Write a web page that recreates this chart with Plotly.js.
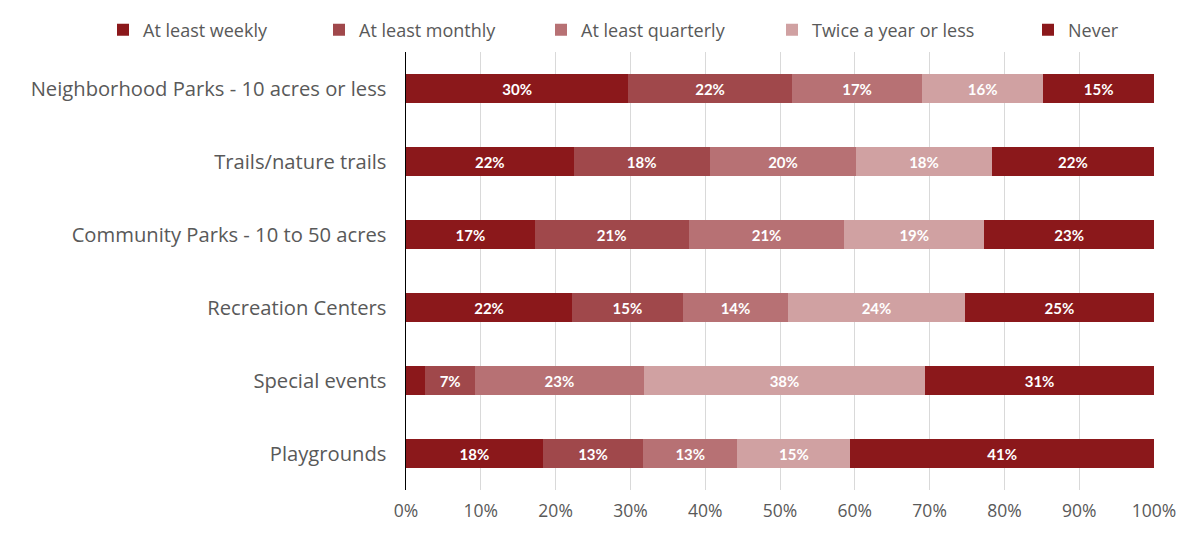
<!DOCTYPE html>
<html>
<head>
<meta charset="utf-8">
<script src="https://cdn.plot.ly/plotly-3.0.1.min.js"></script>
<style>html,body{margin:0;padding:0;background:#fff;}#chart{width:1178px;height:535px;}</style>
</head>
<body>
<div id="chart"></div>
<script>
const categories = [
  "Neighborhood Parks - 10 acres or less",
  "Trails/nature trails",
  "Community Parks - 10 to 50 acres",
  "Recreation Centers",
  "Special events",
  "Playgrounds"
];
const seriesNames = ["At least weekly", "At least monthly", "At least quarterly", "Twice a year or less", "Never"];
const weekly    = [29.7, 22.4, 17.2, 22.2,  2.6, 18.3];
const monthly   = [21.9, 18.2, 20.6, 14.8,  6.6, 13.4];
const quarterly = [17.4, 19.6, 20.8, 14.1, 22.6, 12.6];
const twice     = [16.2, 18.1, 18.7, 23.6, 37.6, 15.1];
const never     = [14.8, 21.7, 22.7, 25.3, 30.6, 40.6];
const seriesValues = [weekly, monthly, quarterly, twice, never];
const colors = ["#8b181b", "#a0484b", "#b77174", "#d0a1a2", "#8b181b"];
const xTickVals = [0,10,20,30,40,50,60,70,80,90,100];
const xTickText = xTickVals.map(v => v + "%");

const W = 1178, H = 535;
// legend anchor positions (px from left of page)
const legendLeft = [103, 319, 541, 772, 1028];
const legendIds = ["legend", "legend2", "legend3", "legend4", "legend5"];

const traces = seriesValues.map((vals, i) => ({
  type: "bar",
  orientation: "h",
  name: seriesNames[i],
  legend: legendIds[i],
  y: categories,
  x: vals,
  marker: {color: colors[i], line: {width: 0}},
  text: vals.map(v => Math.round(v) + "%"),
  textposition: "inside",
  insidetextanchor: "middle",
  textangle: 0,
  insidetextfont: {family: "Lato, 'Open Sans', sans-serif", size: 15, color: "#ffffff", weight: "bold"},
  hoverinfo: "name+x"
}));

const layout = {
  width: W, height: H,
  barmode: "stack",
  bargap: 0.6,
  margin: {l: 406, r: 24, t: 52, b: 45},
  paper_bgcolor: "#ffffff",
  plot_bgcolor: "#ffffff",
  font: {family: "'Open Sans', sans-serif", color: "#595959"},
  uniformtext: {mode: "hide", minsize: 14},
  showlegend: true,
  xaxis: {
    range: [0, 100],
    tickvals: xTickVals, ticktext: xTickText,
    showgrid: true, gridcolor: "#d9d9d9", gridwidth: 1,
    zeroline: false, showline: false,
    ticklabelstandoff: 8,
    tickfont: {family: "'Open Sans', sans-serif", size: 17.5, color: "#595959"},
    ticks: "", fixedrange: true
  },
  yaxis: {
    autorange: "reversed",
    showline: true, linecolor: "#000000", linewidth: 1.5,
    showgrid: false, zeroline: false, ticks: "",
    ticklabelstandoff: 14,
    tickfont: {family: "'Open Sans', sans-serif", size: 20.2, color: "#595959"}
  }
};

legendIds.forEach((id, i) => {
  layout[id] = {
    orientation: "h",
    x: legendLeft[i] / W, xref: "container", xanchor: "left",
    y: 1 - 30 / H, yref: "container", yanchor: "middle",
    font: {family: "'Liberation Sans Narrow', 'Open Sans', sans-serif", size: 18, color: "#595959"},
    bgcolor: "rgba(0,0,0,0)"
  };
});

Plotly.newPlot("chart", traces, layout, {displayModeBar: false, staticPlot: true});
</script>
</body>
</html>
